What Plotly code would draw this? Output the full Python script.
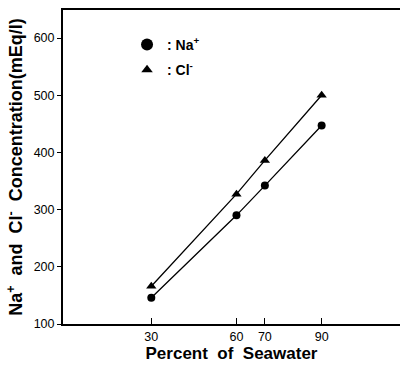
import plotly.graph_objects as go

percent = [30, 60, 70, 90]
na_conc = [146, 290, 342, 447]
cl_conc = [166, 327, 386, 500]
x_ticks = [30, 60, 70, 90]
y_ticks = [100, 200, 300, 400, 500, 600]

fig = go.Figure()
fig.add_trace(go.Scatter(x=percent, y=cl_conc, mode="lines+markers",
                         line=dict(color="black", width=1.3),
                         marker=dict(symbol="triangle-up", size=9, color="black"),
                         showlegend=False))
fig.add_trace(go.Scatter(x=percent, y=na_conc, mode="lines+markers",
                         line=dict(color="black", width=1.3),
                         marker=dict(symbol="circle", size=8, color="black"),
                         showlegend=False))
# legend entries
fig.add_trace(go.Scatter(x=[None], y=[None], mode="markers", name="<b>: Na<sup>+</sup></b>",
                         marker=dict(symbol="circle", size=12, color="black"),
                         legendgroup="a"))
fig.add_trace(go.Scatter(x=[None], y=[None], mode="markers", name="<b>: Cl<sup>-</sup></b>",
                         marker=dict(symbol="triangle-up", size=10, color="black"),
                         legendgroup="b"))

fig.update_layout(
    width=400, height=368,
    margin=dict(l=63, r=0, t=10, b=44),
    plot_bgcolor="white", paper_bgcolor="white",
    font=dict(family="Liberation Sans, Arial", color="black", size=12),
    legend=dict(x=0.19, y=0.94, xanchor="left", yanchor="top",
                bgcolor="rgba(0,0,0,0)", tracegroupgap=4, itemwidth=30,
                font=dict(size=14)),
    xaxis=dict(range=[-1.1, 117.6], tickvals=x_ticks, ticks="inside", ticklen=6,
               tickwidth=1.3, tickcolor="black", showline=True, linecolor="black",
               linewidth=2, mirror=True, showgrid=False, zeroline=False,
               tickfont=dict(size=12.5),
               title=dict(text="<b>Percent&nbsp; of&nbsp; Seawater</b>", font=dict(size=17), standoff=1)),
    yaxis=dict(range=[100, 649], tickvals=y_ticks, ticks="outside", ticklen=4,
               tickwidth=1.3, tickcolor="black", showline=True, linecolor="black",
               linewidth=2, showgrid=False, zeroline=False,
               tickfont=dict(size=12.5),
               title=dict(text="<b>Na<sup>+</sup>&nbsp; and&nbsp; Cl<sup>-</sup>&nbsp; Concentration(mEq/l)</b>",
                          font=dict(size=18), standoff=6)),
)
fig.write_html("out.html")
